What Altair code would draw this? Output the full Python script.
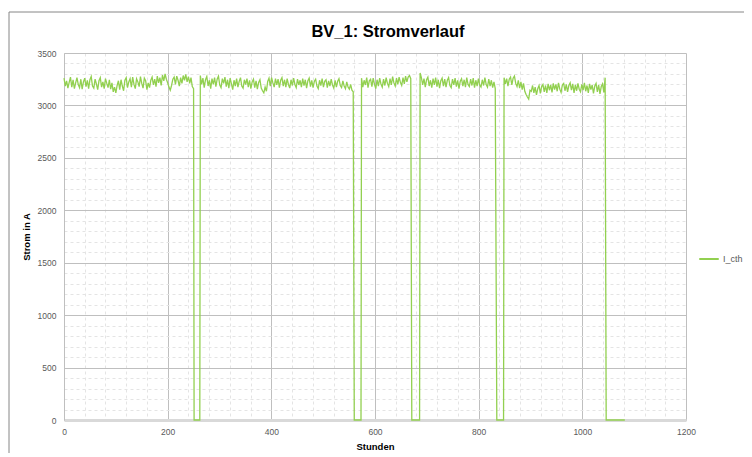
import altair as alt
import pandas as pd

# ---- data (hours step 2.5 inside each running segment) ----
STEP = 2.5
seg_starts = [0, 263, 574, 687, 849]
seg1 = [3260, 3185, 3235, 3165, 3220, 3270, 3175, 3245, 3160, 3215,
        3265, 3200, 3170, 3250, 3155, 3225, 3260, 3180, 3240, 3160,
        3245, 3275, 3185, 3165, 3250, 3205, 3150, 3235, 3265, 3175,
        3225, 3160, 3255, 3210, 3170, 3245, 3155, 3215, 3130, 3175,
        3120, 3190, 3235, 3150, 3245, 3185, 3140, 3240, 3265, 3170,
        3225, 3255, 3175, 3270, 3200, 3160, 3255, 3225, 3180, 3275,
        3210, 3165, 3260, 3235, 3150, 3215, 3170, 3240, 3270, 3195,
        3250, 3180, 3280, 3215, 3265, 3190, 3290, 3235, 3300, 3250,
        3215, 3175, 3145, 3190, 3250, 3270, 3200, 3280, 3240, 3185,
        3265, 3210, 3285, 3240, 3295, 3225, 3275, 3210, 3265, 3180, 3160]
seg2 = [3285, 3200, 3260, 3170, 3245, 3275, 3185, 3240, 3160, 3255,
        3200, 3265, 3180, 3250, 3280, 3195, 3170, 3255, 3210, 3270,
        3180, 3245, 3165, 3260, 3205, 3150, 3240, 3185, 3255, 3175,
        3230, 3265, 3185, 3165, 3245, 3200, 3255, 3175, 3240, 3160,
        3225, 3250, 3170, 3235, 3155, 3220, 3245, 3165, 3140, 3120,
        3175, 3135, 3230, 3260, 3185, 3265, 3215, 3175, 3255, 3195,
        3250, 3170, 3240, 3265, 3185, 3245, 3175, 3255, 3200, 3165,
        3245, 3190, 3260, 3200, 3170, 3250, 3195, 3240, 3175, 3255,
        3190, 3245, 3165, 3235, 3260, 3180, 3240, 3170, 3230, 3250,
        3185, 3160, 3240, 3190, 3255, 3175, 3230, 3245, 3170, 3235,
        3185, 3250, 3195, 3165, 3240, 3175, 3230, 3255, 3190, 3170,
        3235, 3185, 3160, 3225, 3175, 3155, 3200, 3145, 3130]
seg3 = [3260, 3175, 3240, 3195, 3265, 3170, 3235, 3250, 3180, 3260,
        3200, 3160, 3245, 3185, 3260, 3205, 3175, 3250, 3190, 3265,
        3210, 3180, 3255, 3195, 3275, 3215, 3185, 3260, 3200, 3270,
        3220, 3190, 3265, 3205, 3280, 3225, 3270, 3285, 3255]
seg4 = [3310, 3265, 3195, 3255, 3175, 3245, 3270, 3185, 3240, 3170,
        3255, 3195, 3265, 3180, 3245, 3165, 3235, 3260, 3185, 3250,
        3175, 3240, 3265, 3190, 3170, 3250, 3195, 3260, 3180, 3240,
        3160, 3230, 3255, 3185, 3245, 3175, 3265, 3200, 3180, 3250,
        3190, 3260, 3170, 3240, 3185, 3255, 3195, 3175, 3245, 3190,
        3265, 3200, 3175, 3250, 3185, 3240, 3170, 3225, 3160]
seg5 = [3265, 3205, 3255, 3185, 3250, 3270, 3195, 3260, 3280, 3210,
        3180, 3240, 3165, 3225, 3150, 3210, 3135, 3105, 3080, 3060,
        3145, 3135, 3190, 3120, 3175, 3100, 3160, 3190, 3115, 3180,
        3200, 3130, 3190, 3120, 3205, 3145, 3195, 3125, 3210, 3150,
        3200, 3135, 3215, 3155, 3125, 3195, 3210, 3140, 3200, 3130,
        3190, 3215, 3145, 3205, 3120, 3195, 3140, 3210, 3155, 3130,
        3200, 3145, 3215, 3135, 3190, 3120, 3205, 3150, 3195, 3115,
        3185, 3210, 3130, 3195, 3110, 3180, 3205, 3125, 3265]
segments = [seg1, seg2, seg3, seg4, seg5]
# hours where the current is zero (start, end of each outage)
zero_spans = [[251, 262], [560, 573], [671, 686], [835, 848], [1046, 1082]]

x_ticks = list(range(0, 1201, 40))
y_ticks = list(range(0, 3501, 100))
TITLE = "BV_1: Stromverlauf"

rows = []
for start, vals in zip(seg_starts, segments):
    for k, v in enumerate(vals):
        rows.append({"Stunden": start + k * STEP, "Strom": v})
for a, b in zero_spans:
    rows.append({"Stunden": a, "Strom": 0})
    rows.append({"Stunden": b, "Strom": 0})
df = pd.DataFrame(rows).sort_values("Stunden")
df["Serie"] = "I_cth"

FONT = "Liberation Sans"
TXT = "#595959"

x_axis = alt.Axis(
    values=x_ticks, title="Stunden", titleFont=FONT, titleFontSize=9.5,
    titleFontWeight="bold", titleColor="#000000", titlePadding=6,
    labelExpr="datum.value % 200 === 0 ? datum.label : ''", format="d",
    labelFont=FONT, labelFontSize=8.5, labelColor=TXT, labelPadding=7,
    ticks=False, domainColor="#d9d9d9", domainWidth=3,
    gridColor={"condition": {"test": "datum.value % 200 === 0", "value": "#bfbfbf"}, "value": "#e4e4e4"},
    gridDash={"condition": {"test": "datum.value % 200 === 0", "value": []}, "value": [3, 3]},
    labelFlush=False,
)
y_axis = alt.Axis(
    values=y_ticks, title="Strom in A", titleFont=FONT, titleFontSize=9.5,
    titleFontWeight="bold", titleColor="#000000", titlePadding=6,
    labelExpr="datum.value % 500 === 0 ? datum.label : ''",
    labelFont=FONT, labelFontSize=8.5, labelColor=TXT, labelPadding=8,
    ticks=False, domainColor="#bfbfbf", format="d",
    gridColor={"condition": {"test": "datum.value % 500 === 0", "value": "#bfbfbf"}, "value": "#e4e4e4"},
    gridDash={"condition": {"test": "datum.value % 500 === 0", "value": []}, "value": [3, 3]},
)

line = alt.Chart(df).mark_line(strokeWidth=1.3).encode(
    x=alt.X("Stunden:Q", scale=alt.Scale(domain=[0, 1200], nice=False), axis=x_axis),
    y=alt.Y("Strom:Q", scale=alt.Scale(domain=[0, 3500], nice=False), axis=y_axis),
    color=alt.Color("Serie:N", scale=alt.Scale(range=["#92D050"]),
                    legend=alt.Legend(title=None, orient="none", legendX=634, legendY=195,
                                      symbolType="stroke", symbolStrokeWidth=2, symbolSize=380,
                                      labelFont=FONT, labelFontSize=9, labelColor=TXT,
                                      labelOffset=3, labelLimit=200)),
    order="Stunden:Q",
)

frame = alt.Chart(pd.DataFrame({"a": [0]})).mark_rect(
    fill=None, stroke="#868686", strokeWidth=1
).encode(x=alt.value(-55), x2=alt.value(720), y=alt.value(-41), y2=alt.value(430))

title = alt.Chart(pd.DataFrame({"t": [TITLE]})).mark_text(
    font=FONT, fontSize=16.5, fontWeight="bold", color="#000000",
    align="center", baseline="middle"
).encode(text="t:N", x=alt.value(324), y=alt.value(-21))

chart = alt.layer(frame, line, title).properties(
    width=622, height=367,
    autosize=alt.AutoSizeParams(type="none"),
    padding={"left": 56, "top": 45, "right": 58, "bottom": 33},
    background="white",
).configure_view(stroke=None)

chart.save("out.html", embed_options={"renderer": "svg", "actions": False})
